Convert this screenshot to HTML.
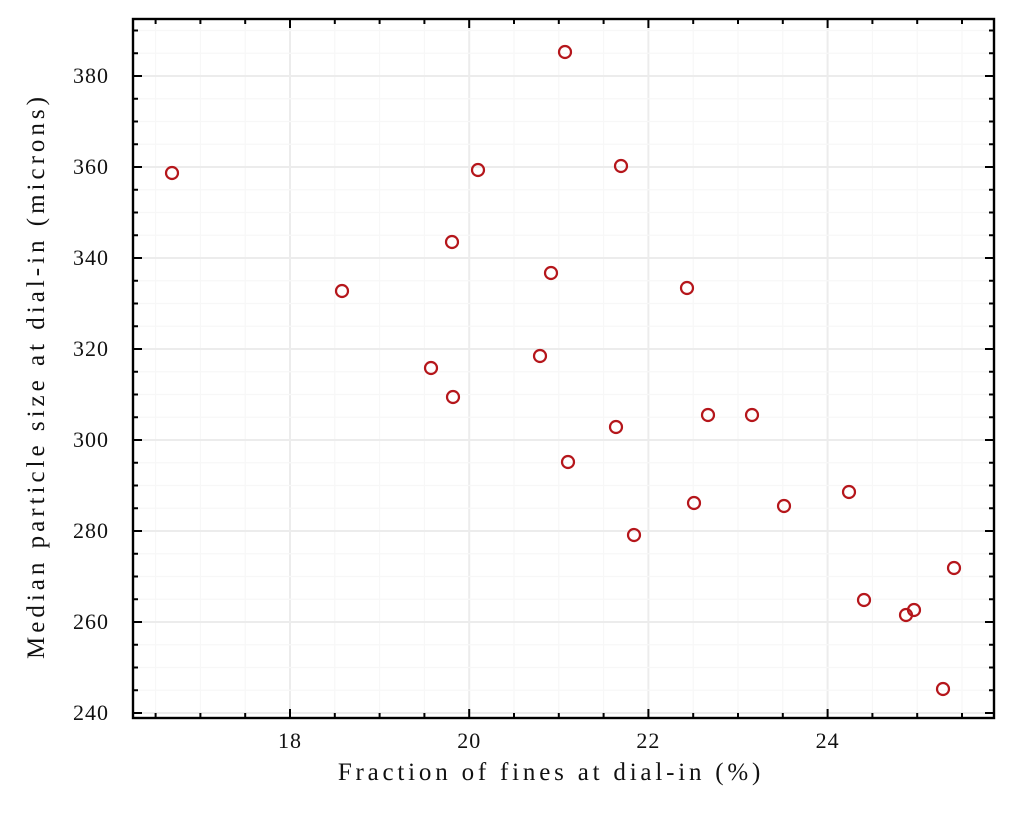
<!DOCTYPE html>
<html><head><style>body{margin:0;background:#fff}svg{display:block}text{font-family:"Liberation Serif",serif;fill:#111}</style></head>
<body>
<svg width="1024" height="819" xmlns="http://www.w3.org/2000/svg">
<g id="grid"></g>
<g id="pts" fill="none" stroke="#b5161b" stroke-width="2.2"></g>
<rect x="133" y="19" width="861" height="699" fill="none" stroke="#000" stroke-width="2.4"/>
<g id="ticks" stroke="#000" stroke-width="2"></g>
<g id="lab" font-size="22" letter-spacing="1"></g>
<text x="551" y="780" font-size="25" text-anchor="middle" letter-spacing="3.8">Fraction of fines at dial-in (%)</text>
<text transform="translate(44,376) rotate(-90)" font-size="25" text-anchor="middle" letter-spacing="4">Median particle size at dial-in (microns)</text>
<script>
const ns="http://www.w3.org/2000/svg";
function el(p,t,a){const e=document.createElementNS(ns,t);for(const k in a)e.setAttribute(k,a[k]);p.appendChild(e);return e;}
function fx(v){return 290+(v-18)*89.6;}
function fy(v){return 713-(v-240)*4.55;}
const g=document.getElementById('grid'),t=document.getElementById('ticks'),l=document.getElementById('lab');
for(let v=16.5;v<26;v+=0.5){const x=fx(v);if(x<134||x>993)continue;const maj=Math.abs(v%2)<1e-6;
el(g,'line',{x1:x,x2:x,y1:19,y2:718,stroke:maj?'#ececec':'#f7f7f7','stroke-width':maj?2:1.2});
const L=maj?9:5;el(t,'line',{x1:x,x2:x,y1:718,y2:718-L});el(t,'line',{x1:x,x2:x,y1:19,y2:19+L});
if(maj){const tx=el(l,'text',{x:x,y:748,'text-anchor':'middle'});tx.textContent=v;}}
for(let v=240;v<=390;v+=5){const y=fy(v);if(y<20||y>717)continue;const maj=v%20==0;
el(g,'line',{x1:133,x2:994,y1:y,y2:y,stroke:maj?'#ececec':'#f7f7f7','stroke-width':maj?2:1.2});
const L=maj?9:5;el(t,'line',{x1:133,x2:133+L,y1:y,y2:y});el(t,'line',{x1:994,x2:994-L,y1:y,y2:y});
if(maj){const tx=el(l,'text',{x:109,y:y+7,'text-anchor':'end'});tx.textContent=v;}}
const P=[[172,173],[565,52],[478,170],[621,166],[452,242],[551,273],[687,288],[342,291],[431,368],[540,356],[453,397],[708,415],[752,415],[616,427],[568,462],[694,503],[784,506],[849,492],[634,535],[954,568],[864,600],[906,615],[914,610],[943,689]];
const pg=document.getElementById('pts');P.forEach(p=>el(pg,'circle',{cx:p[0],cy:p[1],r:6}));
</script>
</svg>
</body></html>
